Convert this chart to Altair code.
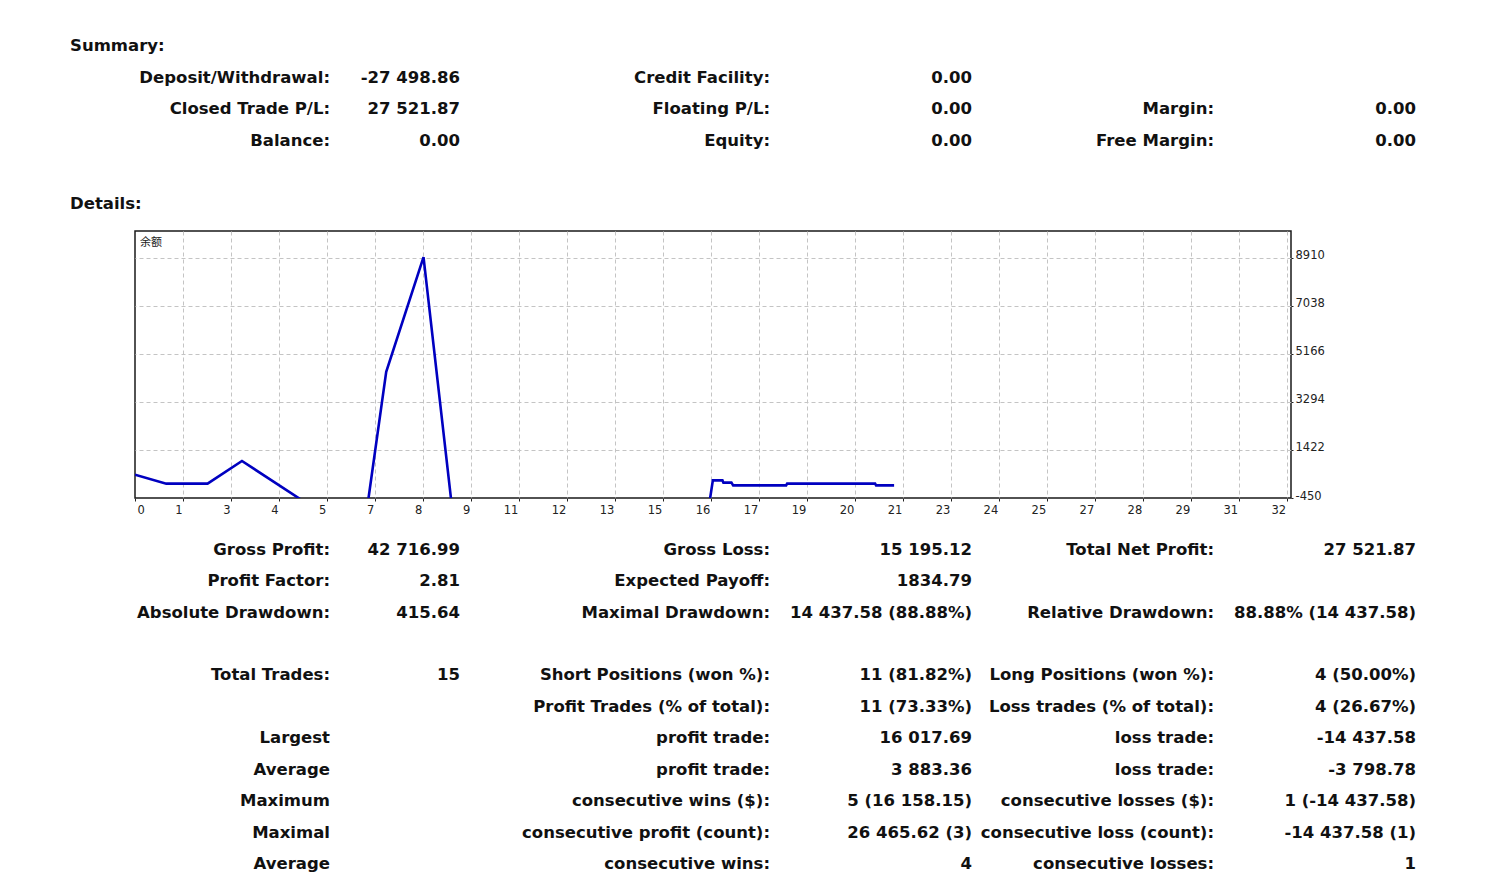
import json
import altair as alt
import pandas as pd

# ---------------- data ----------------
# balance curve (x = position in grid units along the report graph, y = balance)
BAL_X = [0, 0.652, 1.5125, 2.229, 4.744, 5.235, 6.0125, 8.881, 12.042, 12.242,
         12.2625, 12.429, 12.465, 13.569, 13.590, 15.423, 15.444, 15.819]
BAL_Y = [459, 108, 108, 993, -2085, 4464, 8930, -38180, 236, 236,
         147, 147, 41, 41, 108, 108, 41, 41]

X_TICK_LABELS = ["0", "1", "3", "4", "5", "7", "8", "9", "11", "12", "13", "15", "16",
                 "17", "19", "20", "21", "23", "24", "25", "27", "28", "29", "31", "32"]
Y_TICKS = [-450, 1422, 3294, 5166, 7038, 8910]
CHART_LABEL = "余额"

HEADINGS = ["Summary:", "Details:"]
HEADING_ROWS = [0, 5]

SUMMARY_ROWS = [1, 2, 3]
SUMMARY_CELLS = [
    ["Deposit/Withdrawal:", "-27 498.86", "Credit Facility:", "0.00", "", ""],
    ["Closed Trade P/L:", "27 521.87", "Floating P/L:", "0.00", "Margin:", "0.00"],
    ["Balance:", "0.00", "Equity:", "0.00", "Free Margin:", "0.00"],
]

DETAIL_ROWS = [16, 17, 18, 20, 21, 22, 23, 24, 25, 26]
DETAIL_CELLS = [
    ["Gross Profit:", "42 716.99", "Gross Loss:", "15 195.12", "Total Net Profit:", "27 521.87"],
    ["Profit Factor:", "2.81", "Expected Payoff:", "1834.79", "", ""],
    ["Absolute Drawdown:", "415.64", "Maximal Drawdown:", "14 437.58 (88.88%)",
     "Relative Drawdown:", "88.88% (14 437.58)"],
    ["Total Trades:", "15", "Short Positions (won %):", "11 (81.82%)",
     "Long Positions (won %):", "4 (50.00%)"],
    ["", "", "Profit Trades (% of total):", "11 (73.33%)",
     "Loss trades (% of total):", "4 (26.67%)"],
    ["Largest", "", "profit trade:", "16 017.69", "loss trade:", "-14 437.58"],
    ["Average", "", "profit trade:", "3 883.36", "loss trade:", "-3 798.78"],
    ["Maximum", "", "consecutive wins ($):", "5 (16 158.15)",
     "consecutive losses ($):", "1 (-14 437.58)"],
    ["Maximal", "", "consecutive profit (count):", "26 465.62 (3)",
     "consecutive loss (count):", "-14 437.58 (1)"],
    ["Average", "", "consecutive wins:", "4", "consecutive losses:", "1"],
]

# ---------------- tables ----------------
bal_df = pd.DataFrame({"x": BAL_X, "bal": BAL_Y})

head_df = pd.DataFrame({"row": HEADING_ROWS, "col": [0] * len(HEADINGS), "txt": HEADINGS})

cells = []
for rows, table in ((SUMMARY_ROWS, SUMMARY_CELLS), (DETAIL_ROWS, DETAIL_CELLS)):
    for r, line in zip(rows, table):
        for c, t in enumerate(line):
            if t:
                cells.append({"row": r, "col": c + 1, "txt": t})
cell_df = pd.DataFrame(cells)

FONT = "DejaVu Sans"
TEXT_COLOR = "#111111"
FS = 16.5

# text placement scales (page layout columns / rows)
col_scale = alt.Scale(domain=[0, 1, 2, 3, 4, 5, 6],
                      range=[-65, 195, 325, 635, 837, 1079, 1281],
                      nice=False, zero=False)
row_scale = alt.Scale(domain=[0, 26], range=[-179.8, 638.2], nice=False, zero=False)

label_expr = "%s[datum.value]" % json.dumps(X_TICK_LABELS)

line = alt.Chart(bal_df).mark_line(clip=True, color="#0000C0", strokeWidth=2.6).encode(
    x=alt.X("x:Q",
            scale=alt.Scale(domain=[0, 24.09], nice=False, zero=False),
            axis=alt.Axis(values=list(range(25)), labelExpr=label_expr, title=None,
                          grid=True, gridDash=[4, 3], gridColor="#c4c4c4", gridWidth=1,
                          gridOpacity={"condition": {"test": "datum.value === 0", "value": 0},
                                       "value": 1},
                          domain=False, ticks=True, tickSize=3, tickColor="#222",
                          labelAlign={"condition": {"test": "datum.value === 0", "value": "left"},
                                      "value": "right"},
                          labelOffset={"condition": {"test": "datum.value === 0", "value": 2},
                                       "value": -1},
                          labelPadding=3,
                          labelFont=FONT, labelFontSize=11.5, labelColor="#222",
                          labelFlush=False, labelOverlap=False)),
    y=alt.Y("bal:Q",
            scale=alt.Scale(domain=[-450, 9947], nice=False, zero=False),
            axis=alt.Axis(orient="right", values=Y_TICKS, title=None,
                          labelExpr="'' + datum.value",
                          grid=True, gridDash=[4, 3], gridColor="#c4c4c4", gridWidth=1,
                          gridOpacity={"condition": {"test": "datum.value === -450", "value": 0},
                                       "value": 1},
                          domain=False, ticks=True, tickSize=2, tickColor="#222",
                          labelPadding=2, labelOffset=-2, labelBaseline="middle",
                          labelFont=FONT, labelFontSize=11.5, labelColor="#222",
                          labelFlush=False, labelOverlap=False)),
)

chart_label = alt.Chart(pd.DataFrame({"t": [CHART_LABEL]})).mark_text(
    align="left", baseline="middle", font="Noto Sans CJK SC", fontSize=11,
    color="#222").encode(x=alt.value(5), y=alt.value(12), text="t:N")

heads = alt.Chart(head_df).mark_text(
    align="left", baseline="alphabetic", font=FONT, fontSize=FS, fontWeight="bold",
    color=TEXT_COLOR).encode(
    x=alt.X("col:Q", scale=col_scale, axis=None),
    y=alt.Y("row:Q", scale=row_scale, axis=None),
    text="txt:N")

body = alt.Chart(cell_df).mark_text(
    align="right", baseline="alphabetic", font=FONT, fontSize=FS, fontWeight="bold",
    color=TEXT_COLOR).encode(
    x=alt.X("col:Q", scale=col_scale, axis=None),
    y=alt.Y("row:Q", scale=row_scale, axis=None),
    text="txt:N")

chart = alt.layer(line, chart_label, heads, body).resolve_scale(
    x="independent", y="independent"
).properties(
    width=1156, height=267,
    autosize=alt.AutoSizeParams(type="none"),
    padding={"left": 127, "top": 223, "right": 194, "bottom": 378},
    background="white",
).configure_view(stroke="#1a1a1a", strokeWidth=1.5)

chart.save("out.html", embed_options={"renderer": "svg", "actions": False})
